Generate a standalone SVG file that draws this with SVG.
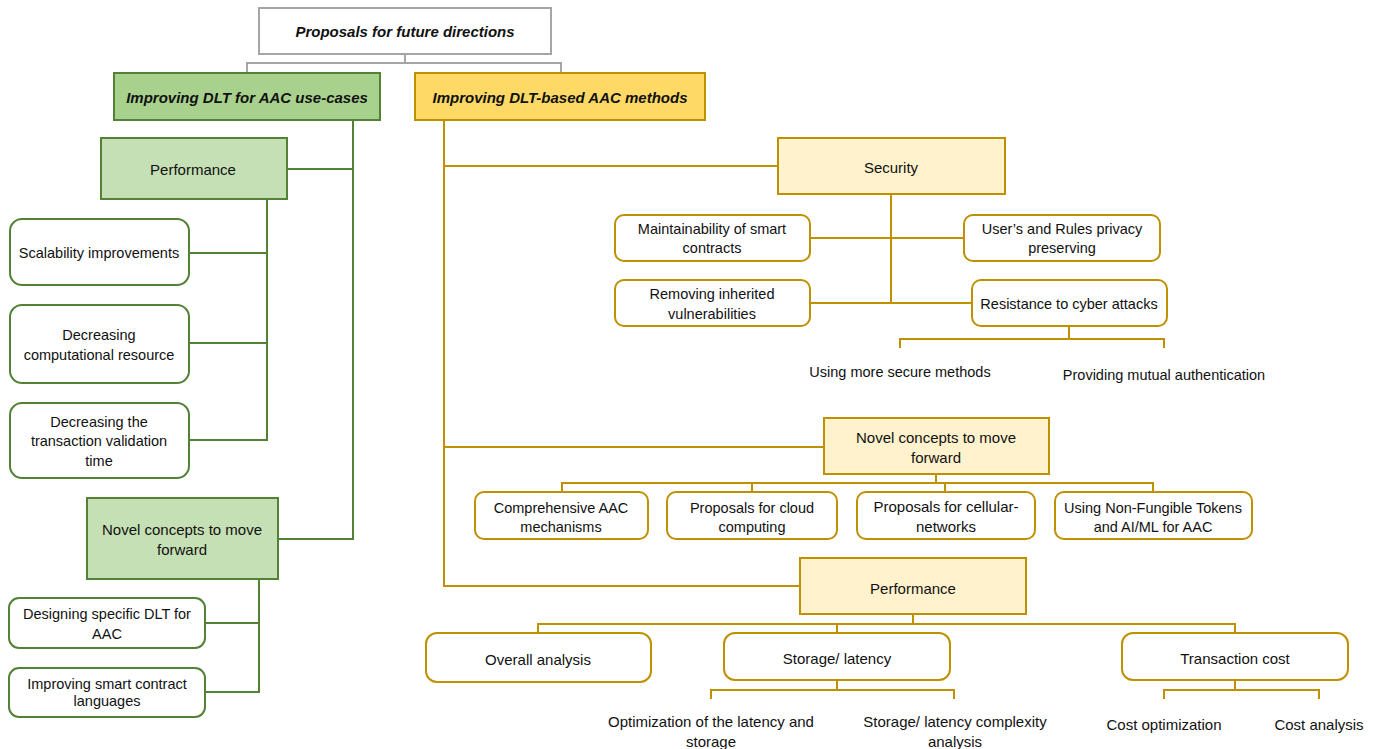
<svg xmlns="http://www.w3.org/2000/svg" width="1376" height="749" viewBox="0 0 1376 749">
<style>
text{font-family:"Liberation Sans",Arial,sans-serif;font-size:14.5px;fill:#111;text-anchor:middle;dominant-baseline:central}
.t{font-weight:bold;font-style:italic;font-size:15px}
.g{fill:#fff;stroke:#538135;stroke-width:2}
.gd{fill:#a9d18e;stroke:#538135;stroke-width:2}
.gl{fill:#c5e0b4;stroke:#538135;stroke-width:2}
.y{fill:#fff;stroke:#bf9000;stroke-width:2}
.yd{fill:#ffd966;stroke:#bf9000;stroke-width:2}
.yl{fill:#fff2cc;stroke:#bf9000;stroke-width:2}
.cg{fill:none;stroke:#538135;stroke-width:2}
.cy{fill:none;stroke:#bf9000;stroke-width:2}
.cgr{fill:none;stroke:#a5a5a5;stroke-width:2}
.b{font-size:15px}
.s{font-size:15px}
</style>
<rect width="1376" height="749" fill="#fff"/>
<g id="connectors">
<path class="cgr" d="M405 54V63M247 73V63H561V73"/>
<path class="cg" d="M353 120V539H278M287 169H353"/>
<path class="cg" d="M267 199V440H189M189 253H267M189 343H267"/>
<path class="cg" d="M259 579V692H205M205 623H259"/>
<path class="cy" d="M444 120V586H800M444 166H778M444 447H824"/>
<path class="cy" d="M891 194V303M810 238H964M810 303H972"/>
<path class="cy" d="M1069 326V339M900 348V339H1164V348"/>
<path class="cy" d="M936 474V483M562 492V483H1153V492M752 483V492M945 483V492"/>
<path class="cy" d="M913 614V624M538 633V624H1235V633M837 624V633"/>
<path class="cy" d="M837 680V690M711 699V690H954V699"/>
<path class="cy" d="M1235 680V690M1164 699V690H1319V699"/>
</g>
<g id="root"><rect x="259" y="8" width="292" height="46" fill="#fff" stroke="#a5a5a5" stroke-width="2"/><text class="t" x="405" y="31">Proposals for future directions</text></g>
<g id="dlt-usecases"><rect class="gd" x="114" y="73" width="266" height="47"/><text class="t" x="247" y="97">Improving DLT for AAC use-cases</text></g>
<g id="dlt-methods"><rect class="yd" x="415" y="73" width="290" height="47"/><text class="t" x="560" y="97">Improving DLT-based AAC methods</text></g>

<g id="g-performance"><rect class="gl" x="101" y="138" width="186" height="61"/><text class="b" x="193" y="169">Performance</text></g>
<g id="g-scal"><rect class="g" x="10" y="219" width="179" height="66" rx="12"/><text x="99" y="253">Scalability improvements</text></g>
<g id="g-comp"><rect class="g" x="10" y="305" width="179" height="78" rx="12"/><text x="99" y="335">Decreasing</text><text x="99" y="355">computational resource</text></g>
<g id="g-trans"><rect class="g" x="10" y="403" width="179" height="75" rx="12"/><text x="99" y="422">Decreasing the</text><text x="99" y="441">transaction validation</text><text x="99" y="461">time</text></g>
<g id="g-novel"><rect class="gl" x="87" y="498" width="191" height="81"/><text class="b" x="182" y="529">Novel concepts to move</text><text class="b" x="182" y="549">forward</text></g>
<g id="g-design"><rect class="g" x="9" y="598" width="196" height="50" rx="10"/><text x="107" y="614">Designing specific DLT for</text><text x="107" y="634">AAC</text></g>
<g id="g-smart"><rect class="g" x="9" y="668" width="196" height="49" rx="10"/><text x="107" y="684">Improving smart contract</text><text x="107" y="701">languages</text></g>

<g id="y-security"><rect class="yl" x="778" y="138" width="227" height="56"/><text class="b" x="891" y="167">Security</text></g>
<g id="y-maint"><rect class="y" x="615" y="215" width="195" height="46" rx="9"/><text x="712" y="229">Maintainability of smart</text><text x="712" y="248">contracts</text></g>
<g id="y-privacy"><rect class="y" x="964" y="215" width="196" height="46" rx="9"/><text x="1062" y="229">User’s and Rules privacy</text><text x="1062" y="248">preserving</text></g>
<g id="y-remove"><rect class="y" x="615" y="280" width="195" height="46" rx="9"/><text x="712" y="294">Removing inherited</text><text x="712" y="314">vulnerabilities</text></g>
<g id="y-resist"><rect class="y" x="972" y="280" width="195" height="46" rx="9"/><text x="1069" y="304">Resistance to cyber attacks</text></g>
<g id="y-secure-methods"><text x="900" y="372">Using more secure methods</text></g>
<g id="y-mutual"><text x="1164" y="375">Providing mutual authentication</text></g>

<g id="y-novel"><rect class="yl" x="824" y="418" width="225" height="56"/><text class="b" x="936" y="437">Novel concepts to move</text><text class="b" x="936" y="457">forward</text></g>
<g id="y-comp"><rect class="y" x="475" y="492" width="173" height="47" rx="9"/><text x="561" y="508">Comprehensive AAC</text><text x="561" y="527">mechanisms</text></g>
<g id="y-cloud"><rect class="y" x="667" y="492" width="170" height="47" rx="9"/><text x="752" y="508">Proposals for cloud</text><text x="752" y="527">computing</text></g>
<g id="y-cell"><rect class="y" x="857" y="492" width="178" height="47" rx="9"/><text class="b" x="946" y="506">Proposals for cellular-</text><text class="b" x="946" y="526">networks</text></g>
<g id="y-nft"><rect class="y" x="1055" y="492" width="197" height="47" rx="9"/><text x="1153" y="508">Using Non-Fungible Tokens</text><text x="1153" y="527">and AI/ML for AAC</text></g>

<g id="y-performance"><rect class="yl" x="800" y="558" width="226" height="56"/><text class="b" x="913" y="588">Performance</text></g>
<g id="y-overall"><rect class="y" x="426" y="633" width="225" height="49" rx="11"/><text class="b" x="538" y="659">Overall analysis</text></g>
<g id="y-storage"><rect class="y" x="724" y="633" width="226" height="47" rx="11"/><text class="b" x="837" y="658">Storage/ latency</text></g>
<g id="y-cost"><rect class="y" x="1122" y="633" width="226" height="47" rx="11"/><text class="b" x="1235" y="658">Transaction cost</text></g>
<g id="y-opt"><text class="s" x="711" y="721">Optimization of the latency and</text><text class="s" x="711" y="741">storage</text></g>
<g id="y-complex"><text class="s" x="955" y="721">Storage/ latency complexity</text><text class="s" x="955" y="741">analysis</text></g>
<g id="y-costopt"><text class="s" x="1164" y="724">Cost optimization</text></g>
<g id="y-costan"><text class="s" x="1319" y="724">Cost analysis</text></g>
</svg>
